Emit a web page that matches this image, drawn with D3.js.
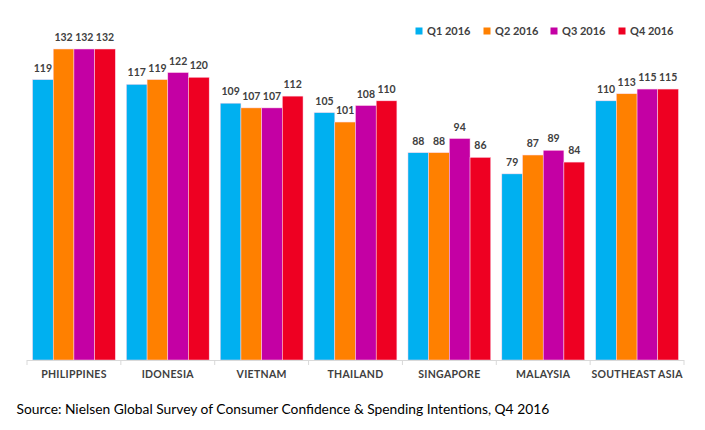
<!DOCTYPE html>
<html><head><meta charset="utf-8">
<script src="https://cdn.jsdelivr.net/npm/d3@7"></script>
<style>body{margin:0;background:#fff;} svg{display:block;}</style>
</head><body>
<script>
const categories = ["PHILIPPINES","IDONESIA","VIETNAM","THAILAND","SINGAPORE","MALAYSIA","SOUTHEAST ASIA"];
const seriesNames = ["Q1 2016","Q2 2016","Q3 2016","Q4 2016"];
const q1 = [119,117,109,105,88,79,110];
const q2 = [132,119,107,101,88,87,113];
const q3 = [132,122,107,108,94,89,115];
const q4 = [132,120,112,110,86,84,115];
const colors = ["#00B0F0","#FF8000","#C400A4","#EE0022"];
const series = [q1,q2,q3,q4];

const W=705,H=430;
const svg=d3.select("body").append("svg").attr("width",W).attr("height",H);
const font="Lato, 'Open Sans', sans-serif";

const x=d3.scaleBand().domain(categories).range([27,684]).paddingInner(0.118).paddingOuter(0.059);
const xi=d3.scaleBand().domain(seriesNames).range([0,x.bandwidth()]);
const y=d3.scaleLinear().domain([0,132]).range([360,49]);

const data=categories.map((c,i)=>({c,vals:series.map((s,k)=>({k,name:seriesNames[k],v:s[i]}))}));

const g=svg.selectAll("g.cat").data(data).join("g").attr("transform",d=>`translate(${x(d.c)},0)`);
g.selectAll("rect").data(d=>d.vals).join("rect")
  .attr("x",d=>xi(d.name)).attr("width",xi.bandwidth())
  .attr("y",d=>y(d.v)).attr("height",d=>y(0)-y(d.v))
  .attr("fill",d=>colors[d.k]).attr("stroke","#ffd6ea").attr("stroke-width",0.5);
g.selectAll("text").data(d=>d.vals).join("text")
  .attr("x",d=>xi(d.name)+xi.bandwidth()/2).attr("y",d=>y(d.v)-8)
  .attr("text-anchor","middle").attr("font-family",font).attr("font-weight","bold")
  .attr("font-size",10.5).attr("fill","#404040").text(d=>d.v);

// axis
svg.append("line").attr("x1",27).attr("x2",684).attr("y1",360.5).attr("y2",360.5).attr("stroke","#d9d9d9");
const bounds=d3.range(categories.length+1).map(i=>27+i*(684-27)/categories.length);
svg.selectAll("line.tk").data(bounds).join("line").attr("class","tk")
  .attr("x1",d=>d).attr("x2",d=>d).attr("y1",360).attr("y2",365).attr("stroke","#d9d9d9");
svg.selectAll("text.cl").data(categories).join("text").attr("class","cl")
  .attr("x",d=>x(d)+x.bandwidth()/2).attr("y",378).attr("text-anchor","middle")
  .attr("font-family",font).attr("font-weight","bold").attr("font-size",10.5).attr("letter-spacing",0.3)
  .attr("fill","#404040").text(d=>d);

// legend
const lx=[419,487,554,622];
const lg=svg.selectAll("g.lg").data(seriesNames).join("g").attr("transform",(d,i)=>`translate(${lx[i]},31)`);
lg.append("rect").attr("x",-3.5).attr("y",-3.5).attr("width",7).attr("height",7).attr("fill",(d,i)=>colors[i]);
lg.append("text").attr("x",8).attr("y",4).attr("font-family",font).attr("font-weight","bold")
  .attr("font-size",11).attr("fill","#404040").text(d=>d);

svg.append("text").attr("x",16.5).attr("y",414).attr("font-family",font).attr("font-size",13.8).attr("fill","#000")
  .text("Source: Nielsen Global Survey of Consumer Confidence & Spending Intentions, Q4 2016");
</script>
</body></html>
